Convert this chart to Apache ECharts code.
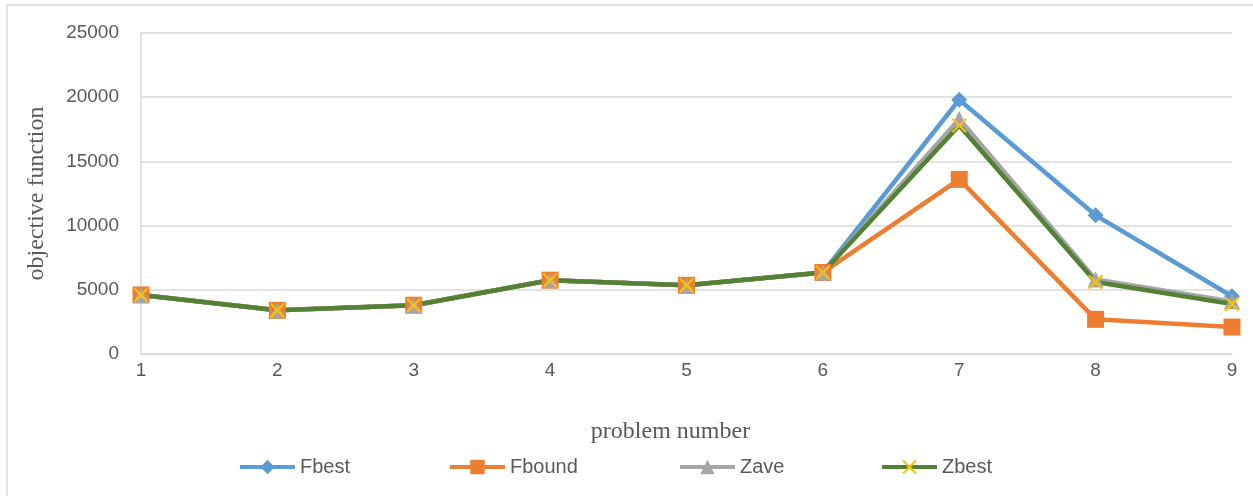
<!DOCTYPE html>
<html>
<head>
<meta charset="utf-8">
<script src="https://cdn.jsdelivr.net/npm/echarts@6/dist/echarts.min.js"></script>
<style>
  html, body { margin: 0; padding: 0; background: #fff; }
  #main { width: 1253px; height: 496px; }
</style>
</head>
<body>
<div id="main"></div>
<script>
// chart data
const categories = ['1', '2', '3', '4', '5', '6', '7', '8', '9'];
const seriesNames = ['Fbest', 'Fbound', 'Zave', 'Zbest'];
const fbest = [4600, 3400, 3800, 5750, 5350, 6350, 19800, 10800, 4500];
const fbound = [4600, 3400, 3800, 5750, 5350, 6350, 13600, 2700, 2100];
const zave = [4600, 3400, 3800, 5750, 5350, 6350, 18300, 5800, 4100];
const zbest = [4600, 3400, 3800, 5750, 5350, 6350, 17800, 5600, 3900];
const yTicks = [0, 5000, 10000, 15000, 20000, 25000];

const labelFont = 'Liberation Sans';
const gray = '#595959';
const gridGray = '#D9D9D9';
const crossPath = 'path://M0,1L1,0L10,9L9,10Z M9,0L10,1L1,10L0,9Z';
const legendLefts = [233, 443, 673, 875];

function lineSeries(name, data, color, symbol, size, symbolColor) {
    return {
        name: name,
        type: 'line',
        data: data,
        symbol: symbol,
        symbolSize: size,
        showAllSymbol: true,
        lineStyle: { color: color, width: 4.5 },
        itemStyle: { color: symbolColor || color, borderWidth: 0 },
        emphasis: { disabled: true },
        animation: false
    };
}

// one legend per item so each can sit where Excel put it
let legends = seriesNames.map((n, i) => ({
    left: legendLefts[i],
    top: 452,
    itemWidth: 55,
    itemHeight: 18,
    lineStyle: { width: 4 },
    textStyle: { fontFamily: labelFont, fontSize: 20, color: gray },
    data: [n]
}));

let myChart = echarts.init(document.getElementById('main'));
myChart.setOption({
    backgroundColor: '#fff',
    graphic: [{
        type: 'rect',
        shape: { x: 7, y: 5, width: 1260, height: 510 },
        style: { fill: 'none', stroke: gridGray, lineWidth: 1.5 },
        silent: true
    }],
    grid: { left: 141, right: 21, top: 33, bottom: 142 },
    legend: legends,
    xAxis: {
        type: 'category',
        data: categories,
        boundaryGap: false,
        name: 'problem number',
        nameLocation: 'middle',
        nameGap: 66,
        nameTextStyle: { fontFamily: 'Liberation Serif', fontSize: 24, color: gray, padding: [0, 32, 0, 0] },
        axisLine: { lineStyle: { color: gridGray, width: 1.5 } },
        axisTick: { show: false },
        axisLabel: { fontFamily: labelFont, fontSize: 19, color: gray, margin: 7 },
        splitLine: { show: false }
    },
    yAxis: {
        type: 'value',
        min: yTicks[0],
        max: yTicks[yTicks.length - 1],
        interval: 5000,
        name: 'objective function',
        nameLocation: 'middle',
        nameGap: 92,
        nameTextStyle: { fontFamily: 'Liberation Serif', fontSize: 24, color: gray },
        axisLine: { show: true, lineStyle: { color: gridGray, width: 1.5 } },
        axisTick: { show: false },
        axisLabel: { fontFamily: labelFont, fontSize: 19, color: gray, margin: 22, formatter: v => String(v) },
        splitLine: { lineStyle: { color: gridGray, width: 1.5 } }
    },
    series: [
        lineSeries('Fbest', fbest, '#5B9BD5', 'diamond', 16),
        lineSeries('Fbound', fbound, '#ED7D31', 'rect', 17),
        lineSeries('Zave', zave, '#A5A5A5', 'triangle', 16),
        lineSeries('Zbest', zbest, '#548235', crossPath, 15, '#FFC000')
    ]
});
</script>
</body>
</html>
